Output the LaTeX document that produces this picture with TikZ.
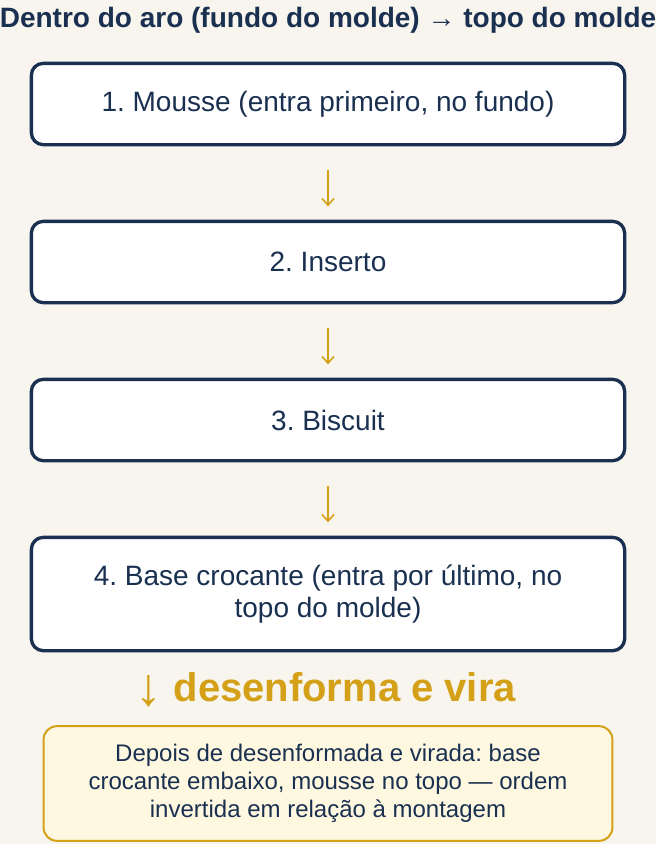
\documentclass[tikz,border=0pt]{standalone}
\usepackage{fontspec}
\setmainfont{Liberation Sans}
\frenchspacing
\usetikzlibrary{arrows.meta}
\definecolor{navy}{HTML}{1A3050}
\definecolor{gold}{HTML}{D4A017}
\definecolor{paper}{HTML}{F8F5EE}
\definecolor{cream}{HTML}{FFF8E1}
\begin{document}
\begin{tikzpicture}[x=0.75pt,y=-0.75pt,
 layer/.style={draw=navy, line width=2.5pt, fill=white, rounded corners=9pt,
  minimum width=445pt, minimum height=61pt, align=center, text=navy,
  font=\fontsize{21}{23.5}\selectfont},
 flow/.style={draw=gold, line width=1.2pt, -{Straight Barb[length=5pt,width=9pt]},
  shorten <=18pt, shorten >=10pt},
 note/.style={draw=gold, line width=1.5pt, fill=cream, rounded corners=10pt,
  minimum width=426pt, minimum height=86pt, align=center, text=navy,
  font=\fontsize{18}{21}\selectfont}]

 \fill[paper] (0,0) rectangle (656,844);
 \useasboundingbox (0,0) rectangle (656,844);

 \node[text=navy, font=\fontsize{21}{25}\selectfont\bfseries] (title) at (328,20)
  {Dentro do aro (fundo do molde) {\mdseries →} topo do molde};

 % camadas, do fundo para o topo do molde
 \node[layer] (mousse) at (328,104) {1. Mousse (entra primeiro, no fundo)};
 \node[layer] (inserto) at (328,262) {2. Inserto};
 \node[layer] (biscuit) at (328,420) {3. Biscuit};
 \node[layer, minimum height=85pt] (base) at (328,594)
  {4. Base crocante (entra por último, no\\topo do molde)};

 \draw[flow] (mousse) -- (inserto);
 \draw[flow] (inserto) -- (biscuit);
 \draw[flow] (biscuit) -- (base);

 \node[text=gold, font=\fontsize{30}{36}\selectfont] (flip) at (326,690)
  {\raisebox{-3pt}{\fontsize{40}{40}\selectfont ↓} \textbf{desenforma e vira}};

 \node[note] (result) at (328,783.5)
  {\raisebox{-2pt}{\parbox{420pt}{\centering Depois de desenformada e virada: base\\crocante embaixo, mousse no topo — ordem\\invertida em relação à montagem}}};

\end{tikzpicture}
\end{document}
